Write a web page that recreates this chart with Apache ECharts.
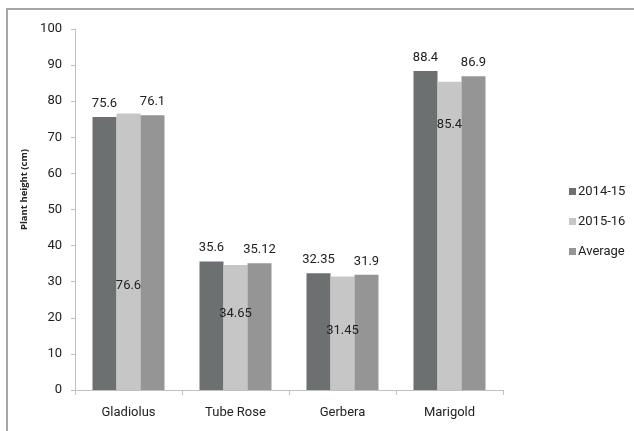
<!DOCTYPE html>
<html>
<head>
<meta charset="utf-8">
<script src="https://cdn.jsdelivr.net/npm/echarts@6/dist/echarts.min.js"></script>
<style>
  html, body { margin: 0; padding: 0; background: #fff; }
  #frame { position: absolute; left: 6px; top: 8px; width: 700px; height: 500px; border-left: 2px solid #a6a6a6; border-top: 2px solid #a6a6a6; }
  #chart { position: absolute; left: 0; top: 0; width: 634px; height: 431px; }
</style>
</head>
<body>
<div id="frame"></div>
<div id="chart"></div>
<script>
// Plant height of four flower crops over two seasons
const categories = ['Gladiolus', 'Tube Rose', 'Gerbera', 'Marigold'];
const season1 = [75.6, 35.6, 32.35, 88.4];     // 2014-15
const season2 = [76.6, 34.65, 31.45, 85.4];    // 2015-16
const average = [76.1, 35.12, 31.9, 86.9];
const seriesNames = ['2014-15', '2015-16', 'Average'];
const yTicks = { min: 0, max: 100, interval: 10 };

const FONT = 'Roboto, "Open Sans", sans-serif';
const colors = ['#6d7070', '#c6c6c6', '#949594'];
// labels of the middle series sit inside the bar, pushed down by these amounts
const innerLabelDrop = [166, 42, 48, 37];

const chart = echarts.init(document.getElementById('chart'), null, { renderer: 'canvas' });

function barSeries(name, values, idx) {
  const inner = idx === 1;
  return {
    name: name,
    type: 'bar',
    barWidth: 24,
    barGap: '0%',
    itemStyle: { color: colors[idx] },
    emphasis: { disabled: true },
    data: values.map((v, i) => inner ? {
      value: v,
      label: { position: 'insideTop', distance: innerLabelDrop[i] }
    } : v),
    label: {
      show: true,
      position: 'top',
      distance: 7,
      color: '#222',
      fontFamily: FONT,
      fontSize: 13,
      formatter: p => String(p.value)
    }
  };
}

chart.setOption({
  animation: false,
  grid: { left: 75, right: 131, top: 29, bottom: 41, containLabel: false },
  legend: {
    orient: 'vertical',
    left: 564,
    top: 180,
    itemWidth: 7,
    itemHeight: 7,
    itemGap: 17,
    icon: 'rect',
    textStyle: { fontFamily: FONT, fontSize: 13, color: '#222', padding: [0, 0, 0, -3] },
    data: seriesNames
  },
  xAxis: {
    type: 'category',
    data: categories,
    axisLine: { lineStyle: { color: '#c0c0c0', width: 1 } },
    axisTick: { show: true, length: 5, alignWithLabel: false, lineStyle: { color: '#c0c0c0' } },
    axisLabel: { fontFamily: FONT, fontSize: 13, color: '#222', margin: 16 }
  },
  yAxis: {
    type: 'value',
    min: yTicks.min,
    max: yTicks.max,
    interval: yTicks.interval,
    name: 'Plant height (cm)',
    nameLocation: 'middle',
    nameGap: 43,
    nameTextStyle: { fontFamily: '"Open Sans", sans-serif', fontWeight: 'bold', fontSize: 9.5, color: '#222', padding: [0, 0, 0, 40] },
    axisLine: { show: true, lineStyle: { color: '#c0c0c0', width: 1 } },
    axisTick: { show: true, length: 4, lineStyle: { color: '#c0c0c0' } },
    axisLabel: { fontFamily: FONT, fontSize: 13, color: '#222', margin: 13 },
    splitLine: { show: false }
  },
  series: [
    barSeries(seriesNames[0], season1, 0),
    barSeries(seriesNames[1], season2, 1),
    barSeries(seriesNames[2], average, 2)
  ]
});
</script>
</body>
</html>
